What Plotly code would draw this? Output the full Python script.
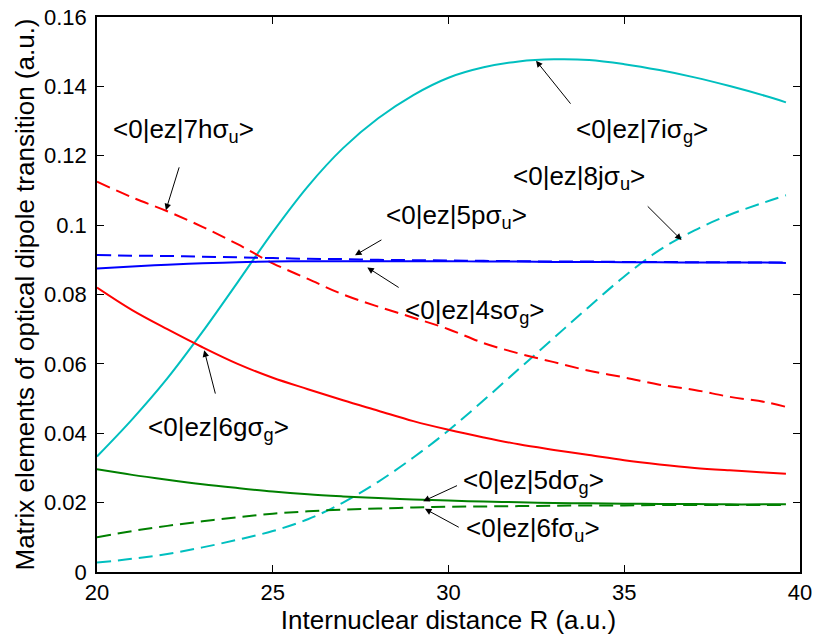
import plotly.graph_objects as go

R = [20, 21, 22, 23, 24, 25, 26, 27, 28, 29, 30, 31, 32, 33, 34, 35, 36, 37, 38, 39, 39.6]

s4sg = [0.0875, 0.0881, 0.0886, 0.0890, 0.0893, 0.0895, 0.0896, 0.0896, 0.0896, 0.0896, 0.0896, 0.0895,
        0.0895, 0.0894, 0.0894, 0.0893, 0.0893, 0.0892, 0.0892, 0.0892, 0.0891]
s5pu = [0.0914, 0.0912, 0.0911, 0.0909, 0.0907, 0.0905, 0.0903, 0.0902, 0.0900, 0.0899, 0.0898, 0.0897,
        0.0896, 0.0895, 0.0895, 0.0894, 0.0894, 0.0893, 0.0893, 0.0892, 0.0892]
s5dg = [0.0296, 0.0280, 0.0266, 0.0253, 0.0242, 0.0232, 0.0224, 0.0218, 0.0213, 0.0209, 0.0206, 0.0203,
        0.0201, 0.0199, 0.0198, 0.0197, 0.0196, 0.0196, 0.0195, 0.0195, 0.0195]
s6fu = [0.0100, 0.0118, 0.0133, 0.0146, 0.0158, 0.0168, 0.0175, 0.0180, 0.0183, 0.0186, 0.0188, 0.0189,
        0.0190, 0.0191, 0.0192, 0.0192, 0.0193, 0.0193, 0.0193, 0.0193, 0.0193]
s6gg = [0.0820, 0.0755, 0.0700, 0.0648, 0.0600, 0.0560, 0.0527, 0.0495, 0.0465, 0.0435, 0.0410, 0.0388,
        0.0368, 0.0352, 0.0337, 0.0322, 0.0310, 0.0300, 0.0293, 0.0287, 0.0283]
s7hu = [0.1125, 0.1080, 0.1040, 0.0995, 0.0945, 0.0890, 0.0845, 0.0800, 0.0765, 0.0733, 0.0700, 0.0660,
        0.0630, 0.0605, 0.0580, 0.0561, 0.0540, 0.0525, 0.0505, 0.0490, 0.0476]
s7ig = [0.0333, 0.0440, 0.0558, 0.0692, 0.0835, 0.0980, 0.1112, 0.1222, 0.1308, 0.1375, 0.1425, 0.1455,
        0.1472, 0.1478, 0.1476, 0.1464, 0.1447, 0.1426, 0.1401, 0.1373, 0.1354]
s8ju = [0.0027, 0.0038, 0.0052, 0.0071, 0.0093, 0.0118, 0.0152, 0.0200, 0.0260, 0.0330, 0.0408, 0.0495,
        0.0585, 0.0675, 0.0765, 0.0852, 0.0928, 0.0985, 0.1030, 0.1066, 0.1086]

x_ticks = [20, 25, 30, 35, 40]
y_ticks = [0, 0.02, 0.04, 0.06, 0.08, 0.1, 0.12, 0.14, 0.16]
y_tick_text = ["0", "0.02", "0.04", "0.06", "0.08", "0.1", "0.12", "0.14", "0.16"]

CYAN = "#00BFBF"
RED = "#FF0000"
BLUE = "#0000FF"
GREEN = "#008000"
DASH = "14px,7px"

series = [
    (s8ju, CYAN, DASH),
    (s7ig, CYAN, "solid"),
    (s6fu, GREEN, DASH),
    (s5dg, GREEN, "solid"),
    (s6gg, RED, "solid"),
    (s7hu, RED, DASH),
    (s5pu, BLUE, DASH),
    (s4sg, BLUE, "solid"),
]

fig = go.Figure()
for ys, col, dash in series:
    fig.add_trace(go.Scatter(x=R, y=ys, mode="lines", line=dict(color=col, width=2, dash=dash, shape="spline"),
                             showlegend=False, hoverinfo="skip"))

FONT = "Liberation Sans, Arial, Helvetica, sans-serif"

# labels: (text, x_start, y_center)
labels = [
    ("&lt;0|ez|7hσ<sub>u</sub>&gt;", 20.46, 0.1276),
    ("&lt;0|ez|5pσ<sub>u</sub>&gt;", 28.22, 0.1029),
    ("&lt;0|ez|4sσ<sub>g</sub>&gt;", 28.76, 0.0755),
    ("&lt;0|ez|7iσ<sub>g</sub>&gt;", 33.63, 0.1276),
    ("&lt;0|ez|8jσ<sub>u</sub>&gt;", 31.83, 0.1139),
    ("&lt;0|ez|6gσ<sub>g</sub>&gt;", 21.46, 0.0418),
    ("&lt;0|ez|5dσ<sub>g</sub>&gt;", 30.40, 0.0264),
    ("&lt;0|ez|6fσ<sub>u</sub>&gt;", 30.50, 0.0125),
]
# arrows: (tail_x, tail_y, tip_x, tip_y)
arrows = [
    (22.46, 0.1207, 21.96, 0.1043),
    (28.22, 0.0965, 27.34, 0.0913),
    (28.71, 0.0812, 27.69, 0.0878),
    (33.60, 0.1334, 32.49, 0.1474),
    (35.54, 0.1067, 36.63, 0.0957),
    (23.47, 0.0474, 23.05, 0.0639),
    (30.37, 0.0255, 29.28, 0.0204),
    (30.42, 0.0122, 29.33, 0.0182),
]

annotations = []
for t, x, y in labels:
    annotations.append(dict(text=t, x=x, y=y, xref="x", yref="y", showarrow=False,
                            xanchor="left", yanchor="middle", yshift=-1, xshift=-2,
                            font=dict(family=FONT, size=26, color="black")))
for tx, ty, hx, hy in arrows:
    annotations.append(dict(text=" ", x=hx, y=hy, ax=tx, ay=ty, xref="x", yref="y", axref="x", ayref="y",
                            showarrow=True, arrowhead=2, arrowsize=1.3, arrowwidth=1, arrowcolor="black"))

fig.update_layout(
    width=815, height=635,
    margin=dict(l=97, r=15, t=17, b=63, autoexpand=False),
    paper_bgcolor="white", plot_bgcolor="white",
    font=dict(family=FONT, size=22, color="black"),
    annotations=annotations,
    xaxis=dict(range=[20, 40], tickvals=x_ticks, ticktext=[str(v) for v in x_ticks],
               ticks="inside", ticklen=7, tickwidth=1, tickcolor="black",
               showline=True, linecolor="black", linewidth=1.5, mirror="ticks",
               showgrid=False, zeroline=False, automargin=False, ticklabeloverflow="allow",
               title=dict(text="Internuclear distance R (a.u.)", font=dict(size=26), standoff=4),
               tickfont=dict(size=22)),
    yaxis=dict(range=[0, 0.16], tickvals=y_ticks, ticktext=y_tick_text,
               ticks="inside", ticklen=7, tickwidth=1, tickcolor="black",
               showline=True, linecolor="black", linewidth=1.5, mirror="ticks",
               showgrid=False, zeroline=False, automargin=False, ticklabelstandoff=4,
               ticklabeloverflow="allow",
               title=dict(text="Matrix elements of optical dipole transition (a.u.)", font=dict(size=26), standoff=2),
               tickfont=dict(size=22)),
)

fig.write_html("out.html", config={"displayModeBar": False},
               post_script="document.body.style.margin='0';")
